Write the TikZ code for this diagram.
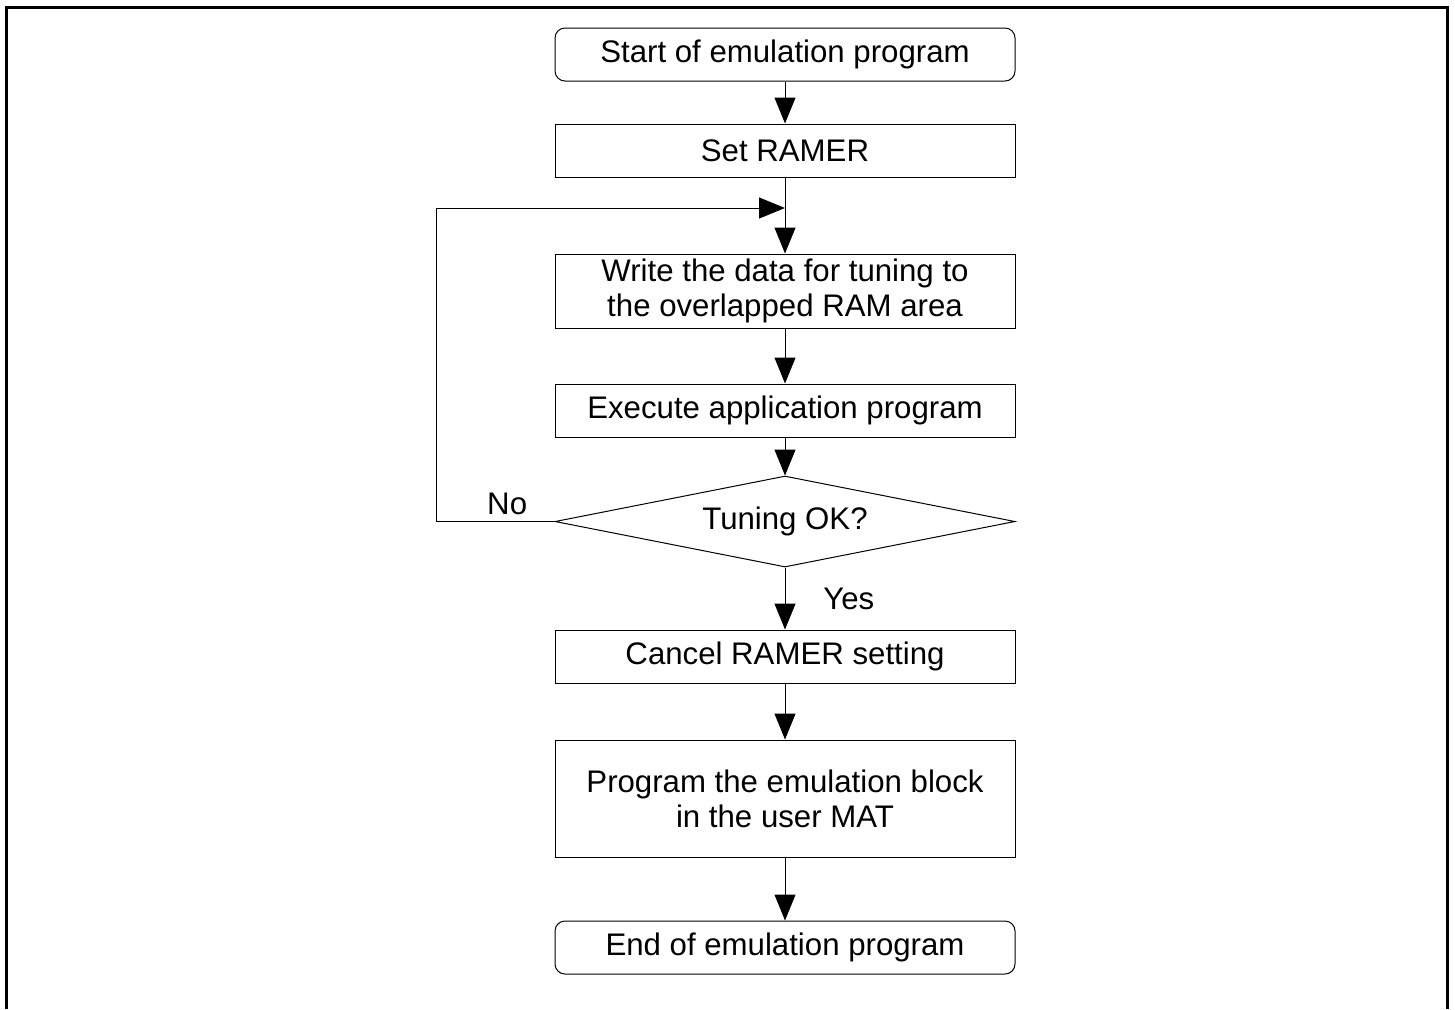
\documentclass[tikz,border=0pt]{standalone}
\usepackage{fontspec}
\setmainfont{Liberation Sans}
\usepackage{tikz}
\usetikzlibrary{positioning,shapes,arrows.meta,shapes.geometric}

\begin{document}
\begin{tikzpicture}[
    font=\fontsize{15.6pt}{17.5pt}\selectfont,
    terminal/.style={draw, rectangle, rounded corners=5pt, minimum width=230pt, minimum height=26.5pt, inner sep=2pt, align=center, line width=0.5pt},
    process/.style={draw, rectangle, minimum width=230pt, minimum height=26.5pt, inner sep=2pt, align=center, line width=0.5pt},
    decision/.style={draw, diamond, aspect=5, inner sep=0pt, minimum width=230pt, minimum height=45.5pt, align=center, line width=0.5pt},
    label/.style={inner sep=1pt},
    line/.style={draw, -{Triangle[length=13pt,width=10.5pt]}, line width=0.5pt}
]
    \useasboundingbox (0,0) rectangle (727.5pt,-504.5pt);
    \draw[line width=1.5pt] (3.25pt,-504.5pt) -- (3.25pt,-3.5pt) -- (723.75pt,-3.5pt) -- (723.75pt,-504.5pt);

    % Nodes
    \node[terminal] (start) at (392.5pt,-27.25pt) {Start of emulation program};
    \node[process, below=21pt of start] (ramer) {Set RAMER};
    \node[process, minimum height=37pt, below=38pt of ramer] (write) {Write the data for tuning to\\the overlapped RAM area};
    \node[process, below=27.5pt of write] (exec) {Execute application program};
    \node[decision, below=19pt of exec] (tune) {Tuning OK?};
    \node[process, below=31pt of tune] (cancel) {Cancel RAMER setting};
    \node[process, minimum height=58.5pt, below=28pt of cancel] (prog) {Program the emulation block\\in the user MAT};
    \node[terminal, below=31.5pt of prog] (end) {End of emulation program};
    \node[label, above left=2pt and 12.5pt of tune.west] (no) {No};
    \node[label, below right=9pt and 18pt of tune.south] (yes) {Yes};
    \coordinate (join) at (ramer.south |- 0,-104pt);

    % Connections
    \draw[line] (start) -- (ramer);
    \draw[line] (ramer) -- (write);
    \draw[line] (write) -- (exec);
    \draw[line] (exec) -- (tune);
    \draw[line] (tune.west) -- ++(-59pt,0) |- (join);
    \draw[line] (tune) -- (cancel);
    \draw[line] (cancel) -- (prog);
    \draw[line] (prog) -- (end);
\end{tikzpicture}
\end{document}
